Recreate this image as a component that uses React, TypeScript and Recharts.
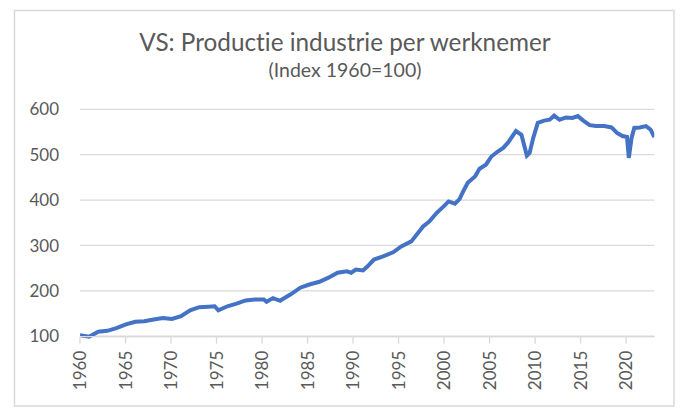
import React from "react";
import { LineChart, Line, XAxis, YAxis, CartesianGrid } from "recharts";

const years: number[] = [
  1960.0, 1961.0, 1962.0, 1963.0, 1964.0, 1965.05, 1966.07, 1967.06, 1968.09, 1969.1,
  1970.1, 1971.1, 1972.1, 1973.1, 1974.1, 1974.8, 1975.2, 1976.2, 1977.2, 1978.2,
  1979.2, 1980.2, 1980.5, 1981.2, 1982.0, 1982.2, 1983.2, 1984.2, 1985.2, 1986.3,
  1987.3, 1988.3, 1989.3, 1989.8, 1990.3, 1991.1, 1991.6, 1992.3, 1993.3, 1994.4,
  1995.3, 1996.4, 1997.0, 1997.7, 1998.4, 1999.2, 1999.9, 2000.5, 2001.2, 2001.7,
  2002.1, 2002.6, 2003.4, 2003.9, 2004.6, 2005.2, 2005.9, 2006.5, 2007.0, 2007.9,
  2008.5, 2009.1, 2009.4, 2009.8, 2010.3, 2011.0, 2011.6, 2012.1, 2012.7, 2013.4,
  2014.1, 2014.7, 2015.3, 2016.0, 2016.7, 2017.6, 2018.4, 2019.0, 2019.6, 2020.1,
  2020.3, 2020.6, 2020.9, 2021.5, 2022.2, 2022.7, 2023.1,
];

const productivity: number[] = [
  102, 99, 110, 112, 118, 126, 132, 133, 137, 140,
  138, 144, 157, 164, 165, 166, 157, 166, 172, 179,
  181, 181, 176, 184, 178, 181, 193, 207, 214, 220,
  229, 240, 243, 240, 247, 245, 254, 269, 276, 285,
  298, 309, 324, 342, 353, 372, 385, 397, 392, 402,
  419, 438, 452, 469, 478, 496, 507, 515, 526, 552,
  544, 498, 504, 537, 570, 575, 577, 586, 577, 582,
  581, 585, 575, 565, 563, 563, 560, 548, 541, 539,
  493, 537, 559, 560, 563, 555, 539,
];

const xTicks: number[] = [1960, 1965, 1970, 1975, 1980, 1985, 1990, 1995, 2000, 2005, 2010, 2015, 2020];
const yTicks: number[] = [100, 200, 300, 400, 500, 600];

const titleText = "VS: Productie industrie per werknemer";
const subtitleText = "(Index 1960=100)";

const data = years.map((y, i) => ({ year: y, value: productivity[i] }));

const FONT = "Lato, 'Open Sans', sans-serif";
const TEXT = "#595959";
const GRID = "#D9D9D9";
const NOLIG: React.CSSProperties = { fontVariantLigatures: "none", fontFeatureSettings: '"liga" 0, "clig" 0' };

const XTick = (props: any) => {
  const { x, y, payload } = props;
  return (
    <text
      transform={`translate(${x + 6},${y + 7}) rotate(-90)`}
      textAnchor="end"
      fill={TEXT}
      fontSize={17}
      fontFamily={FONT}
    >
      {payload.value}
    </text>
  );
};

export default function App() {
  return (
    <div style={{ position: "absolute", left: 0, top: 0, width: 689, height: 419, background: "#fff" }}>
      <svg
        width={689}
        height={419}
        style={{ position: "absolute", left: 0, top: 0 }}
      >
        <rect x={14.5} y={10.5} width={659.5} height={395.5} fill="#fff" stroke={GRID} strokeWidth={1.5} />
        <text x={345} y={51} textAnchor="middle" fill={TEXT} fontSize={24.3} fontFamily={FONT} style={NOLIG}>
          {titleText}
        </text>
        <text x={345} y={77} textAnchor="middle" fill={TEXT} fontSize={19.5} fontFamily={FONT} style={NOLIG}>
          {subtitleText}
        </text>
      </svg>
      <div style={{ position: "absolute", left: 0, top: 0 }}>
        <LineChart
          width={689}
          height={419}
          data={data}
          margin={{ top: 109.3, right: 34.7, left: 20, bottom: 22.3 }}
        >
          <CartesianGrid horizontal={true} vertical={false} stroke={GRID} strokeWidth={1.3} />
          <XAxis
            dataKey="year"
            type="number"
            domain={[1960, 2023.1]}
            ticks={xTicks}
            interval={0}
            height={60}
            tickSize={7}
            tickMargin={0}
            axisLine={{ stroke: GRID, strokeWidth: 1.3 }}
            tickLine={{ stroke: GRID, strokeWidth: 1.3 }}
            tick={<XTick />}
            allowDataOverflow={true}
          />
          <YAxis
            type="number"
            domain={[100, 600]}
            ticks={yTicks}
            width={60}
            axisLine={false}
            tickLine={false}
            tickSize={0}
            tickMargin={21}
            tick={{ fill: TEXT, fontSize: 17, fontFamily: FONT }}
          />
          <Line
            type="linear"
            dataKey="value"
            stroke="#4472C4"
            strokeWidth={4}
            dot={false}
            isAnimationActive={false}
          />
        </LineChart>
      </div>
    </div>
  );
}
